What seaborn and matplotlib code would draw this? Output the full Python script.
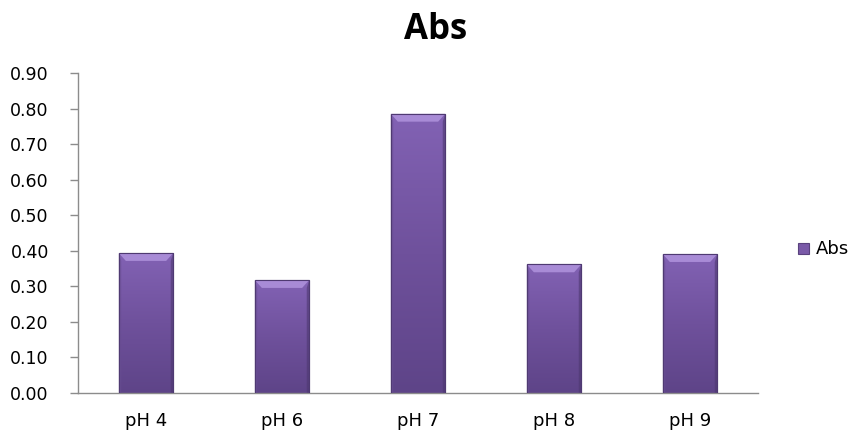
import matplotlib
matplotlib.use("Agg")
import matplotlib.pyplot as plt
import numpy as np
import pandas as pd
import seaborn as sns
from matplotlib.colors import LinearSegmentedColormap
from matplotlib.patches import Polygon

categories = ["pH 4", "pH 6", "pH 7", "pH 8", "pH 9"]
abs_values = [0.393, 0.317, 0.785, 0.361, 0.390]
y_ticks = [0.0, 0.1, 0.2, 0.3, 0.4, 0.5, 0.6, 0.7, 0.8, 0.9]
series_name = "Abs"

df = pd.DataFrame({"pH": categories, series_name: abs_values})

sns.set_theme(style="white")
plt.rcParams["font.family"] = ["DejaVu Sans"]
plt.rcParams["text.color"] = "#000000"

fig = plt.figure(figsize=(8.58, 4.40), dpi=100)
ax = fig.add_axes([78 / 858, 1 - 392.7 / 440, 680 / 858, (392.7 - 73) / 440])

sns.barplot(data=df, x="pH", y=series_name, color="#7a5aa8", width=0.4,
            saturation=1, ax=ax, edgecolor="#5a427e", linewidth=0.8, zorder=2)

# vertical shading on each bar plus a lighter bevel along the top edge
shade = LinearSegmentedColormap.from_list(
    "bar_shade", ["#5e4488", "#6f519c", "#8262b4"])
grad = np.linspace(0, 1, 256).reshape(-1, 1)
for patch in ax.patches:
    x0, y0 = patch.get_x(), patch.get_y()
    w, h = patch.get_width(), patch.get_height()
    im = ax.imshow(grad, cmap=shade, aspect="auto", origin="lower",
                   extent=(x0, x0 + w, y0, y0 + h), zorder=2.5)
    im.set_clip_path(patch)
    bev_y = 0.022
    bev_x = w * 0.13
    top = Polygon([(x0, y0 + h), (x0 + w, y0 + h),
                   (x0 + w - bev_x, y0 + h - bev_y), (x0 + bev_x, y0 + h - bev_y)],
                  closed=True, facecolor="#a88bd6", edgecolor="none", zorder=2.6)
    ax.add_patch(top)
    side_l = Polygon([(x0, y0), (x0, y0 + h), (x0 + bev_x * 0.35, y0 + h - bev_y),
                      (x0 + bev_x * 0.35, y0)],
                     closed=True, facecolor="#6a4f94", edgecolor="none", zorder=2.6, alpha=0.6)
    side_r = Polygon([(x0 + w, y0), (x0 + w, y0 + h), (x0 + w - bev_x * 0.35, y0 + h - bev_y),
                      (x0 + w - bev_x * 0.35, y0)],
                     closed=True, facecolor="#4d3870", edgecolor="none", zorder=2.6, alpha=0.6)
    ax.add_patch(side_l)
    ax.add_patch(side_r)
    outline = plt.Rectangle((x0, y0), w, h, fill=False, edgecolor="#4f3a72",
                            linewidth=0.8, zorder=2.7)
    ax.add_patch(outline)

ax.set_xlim(-0.5, len(categories) - 0.5)
ax.set_ylim(0, 0.9)
ax.set_yticks(y_ticks)
ax.set_yticklabels([f"{t:.2f}" for t in y_ticks])
ax.set_xticks(range(len(categories)))
ax.set_xticklabels(categories)
ax.set_xlabel("")
ax.set_ylabel("")

# category boundary ticks on the x axis
ax.set_xticks(np.arange(-0.5, len(categories), 1.0), minor=True)
ax.tick_params(axis="x", which="major", length=0, pad=14, labelsize=13, colors="#000000")
ax.tick_params(axis="x", which="minor", length=6, width=1, color="#8c8c8c", direction="out")
ax.tick_params(axis="y", which="major", length=6, width=1, color="#8c8c8c",
               direction="out", pad=15, labelsize=12.5, labelcolor="#000000")
ax.tick_params(left=True, bottom=True)

for side in ["top", "right"]:
    ax.spines[side].set_visible(False)
for side in ["left", "bottom"]:
    ax.spines[side].set_color("#8c8c8c")
    ax.spines[side].set_linewidth(1)
ax.set_facecolor("white")
fig.patch.set_facecolor("white")

fig.text(436 / 858, 1 - 25.5 / 440, series_name, ha="center", va="center_baseline",
         fontsize=25, fontweight="bold", color="#000000",
         family=["Open Sans", "DejaVu Sans"])

# legend
fig.patches.append(plt.Rectangle((798 / 858, 1 - 254 / 440), 11 / 858, 11 / 440,
                                 transform=fig.transFigure, facecolor="#7a5aa8",
                                 edgecolor="#5a427e", linewidth=0.8))
fig.text(816 / 858, 1 - 248.5 / 440, series_name, ha="left", va="center",
         fontsize=13, color="#000000", family=["DejaVu Sans"])

fig.savefig("out.png", dpi=100)
